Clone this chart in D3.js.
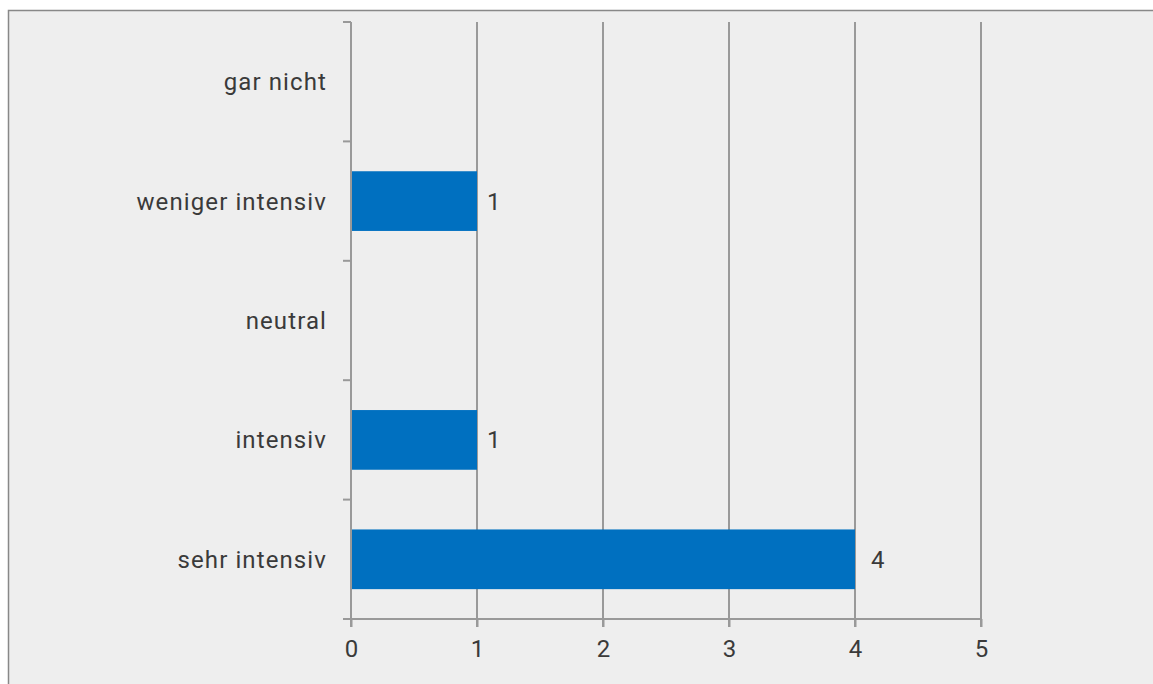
<!DOCTYPE html>
<html><head><meta charset="utf-8">
<script src="https://cdn.jsdelivr.net/npm/d3@7"></script>
<style>body{margin:0;background:#fff;overflow:hidden}svg{display:block}</style>
</head><body>
<script>
const categories = ["gar nicht", "weniger intensiv", "neutral", "intensiv", "sehr intensiv"];
const values = [0, 1, 0, 1, 4];
const xTicks = [0, 1, 2, 3, 4, 5];

(function () {
const W = 1153, H = 684;
const svg = d3.select("body").append("svg").attr("width", W).attr("height", H);
svg.append("rect").attr("x", 8.5).attr("y", 10.5).attr("width", W + 10).attr("height", H + 10)
  .attr("fill", "#eeeeee").attr("stroke", "#888").attr("stroke-width", 1.5);

const pL = 351, pR = 981, pT = 22, pB = 619;
const x = d3.scaleLinear().domain([0, 5]).range([pL, pR]);
const y = d3.scaleBand().domain(categories).range([pT, pB]);
const font = "Roboto, 'Liberation Sans', sans-serif";
const fs = 24, ls = "1.1px";
const grid = "#999";
const txt = "#3a3a3a";

// vertical gridlines
svg.append("g").selectAll("line").data(xTicks.slice(1)).join("line")
  .attr("x1", d => x(d)).attr("x2", d => x(d)).attr("y1", pT).attr("y2", pB + 8)
  .attr("stroke", grid).attr("stroke-width", 2);

// bars
svg.append("g").selectAll("rect").data(categories).join("rect")
  .attr("x", x(0)).attr("y", d => y(d) + y.bandwidth() / 4)
  .attr("width", (d, i) => x(values[i]) - x(0))
  .attr("height", y.bandwidth() / 2)
  .attr("fill", "#0070c0")
  .attr("display", (d, i) => values[i] > 0 ? null : "none");

// value labels
svg.append("g").selectAll("text").data(categories.filter((d, i) => values[i] > 0)).join("text")
  .attr("x", d => x(values[categories.indexOf(d)]) + (values[categories.indexOf(d)] === 1 ? 10 : 16))
  .attr("y", d => y(d) + y.bandwidth() / 2)
  .attr("dy", "0.35em")
  .attr("font-family", font).attr("font-size", fs).attr("fill", txt)
  .text(d => values[categories.indexOf(d)]);

// x axis
const xa = svg.append("g").attr("transform", `translate(0,${pB})`)
  .call(d3.axisBottom(x).tickValues(xTicks).tickFormat(d3.format("d")).tickSize(8).tickPadding(13).tickSizeOuter(0));
xa.select(".domain").attr("stroke", grid).attr("stroke-width", 2).attr("d", `M${pL - 8},0H${pR}`);
xa.selectAll(".tick line").attr("stroke", grid).attr("stroke-width", 2);
xa.selectAll("text").attr("font-family", font).attr("font-size", fs).attr("fill", txt);

// y axis
const bounds = d3.range(categories.length + 1).map(i => pT + i * y.step());
svg.append("line").attr("x1", pL).attr("x2", pL).attr("y1", pT).attr("y2", pB + 8)
  .attr("stroke", grid).attr("stroke-width", 2);
svg.append("g").selectAll("line").data(bounds).join("line")
  .attr("x1", pL - 8).attr("x2", pL).attr("y1", d => d).attr("y2", d => d)
  .attr("stroke", grid).attr("stroke-width", 2);
svg.append("g").selectAll("text").data(categories).join("text")
  .attr("x", pL - 24).attr("y", d => y(d) + y.bandwidth() / 2).attr("dy", "0.35em")
  .attr("text-anchor", "end").attr("font-family", font).attr("font-size", fs)
  .attr("letter-spacing", ls).attr("fill", txt)
  .text(d => d);
})();
</script>
</body></html>
